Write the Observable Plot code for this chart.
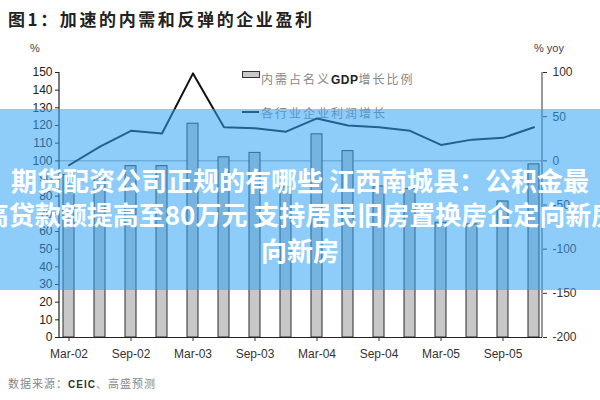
<!DOCTYPE html>
<html>
<head>
<meta charset="utf-8">
<script src="https://cdn.jsdelivr.net/npm/d3@7"></script>
<script src="https://cdn.jsdelivr.net/npm/@observablehq/plot@0.6"></script>
<style>
  body { margin: 0; background: #fff; }
  #wrap { position: relative; width: 600px; height: 400px; overflow: hidden; font-family: "Liberation Sans", Arial, sans-serif; }
  #chart { position: absolute; left: 0; top: 0; }
  .abs { position: absolute; white-space: nowrap; }
  #title { left: 8px; top: 6px; font: bold 17px "Noto Sans CJK SC", sans-serif; letter-spacing: 2.6px; color: #222; }
  #unitL { left: 30px; top: 42px; font-size: 11px; color: #444; }
  #unitR { left: 534px; top: 42px; font-size: 11px; color: #444; }
  .leg { font: 12px "Noto Sans CJK SC", sans-serif; color: #888; letter-spacing: 2px; }
  .leg b { color: #222; font-family: "Liberation Sans", Arial, sans-serif; letter-spacing: 0.5px; }
  #source { left: 8px; top: 375px; font: 11px "Noto Sans CJK SC", sans-serif; color: #888; letter-spacing: 1px; }
  #source b { color: #333; font-family: "Liberation Sans", Arial, sans-serif; font-size: 10px; }
  #banner { left: 0; top: 109px; width: 600px; height: 181px; background: rgba(50, 162, 246, 0.55); }
  .row { left: 300px; transform: translateX(-50%); font: bold 26px "Noto Sans CJK SC", sans-serif; color: #fff; line-height: 30px; }
</style>
</head>
<body>
<div id="wrap">
  <div id="chart"></div>
  <div id="title" class="abs">图1：加速的内需和反弹的企业盈利</div>
  <div id="unitL" class="abs">%</div>
  <div id="unitR" class="abs">% yoy</div>
  <div id="legend"></div>
  <div id="source" class="abs">数据来源：<b>CEIC</b>、高盛预测</div>
  <div id="banner" class="abs"></div>
  <div class="abs row" style="top:165px">期货配资公司正规的有哪些 江西南城县：公积金最</div>
  <div class="abs row" style="top:199px">高贷款额提高至80万元 支持居民旧房置换房企定向新房</div>
  <div class="abs row" style="top:235px">向新房</div>
</div>
<script>
// ---- data ----
const quarters = ["Mar-02","Jun-02","Sep-02","Dec-02","Mar-03","Jun-03","Sep-03","Dec-03",
                  "Mar-04","Jun-04","Sep-04","Dec-04","Mar-05","Jun-05","Sep-05","Dec-05"];
// 内需占名义GDP增长比例 (%), left axis
const demandShare = [92, 90, 97, 97, 121, 102, 104.5, 85, 115, 105.5, 85.5, 84, 65, 64, 77, 98];
// 各行业企业利润增长 (% yoy), right axis
const profitGrowth = [-5, 16, 34, 31, 99, 38, 37, 33, 48, 40, 38, 34, 18, 24, 26, 38];
const xTickLabels = ["Mar-02","Sep-02","Mar-03","Sep-03","Mar-04","Sep-04","Mar-05","Sep-05"];
const leftTicks = [0,10,20,30,40,50,60,70,80,90,100,110,120,130,140,150];
const rightTicks = [-200,-150,-100,-50,0,50,100];
const legendLabels = ["内需占名义", "GDP", "增长比例", "各行业企业利润增长"];

// right axis (-200..100) mapped onto left axis (0..150)
const toLeft = r => 100 + r / 2;
const toRight = l => (l - 100) * 2;

const bars = quarters.map((q, i) => ({q, v: demandShare[i]}));
const line = quarters.map((q, i) => ({q, v: toLeft(profitGrowth[i])}));

const axisLines = (index, {y}, values, dims) => {
  const g = d3.create("svg:g");
  g.append("line").attr("x1", dims.marginLeft).attr("x2", dims.marginLeft)
    .attr("y1", y(150)).attr("y2", y(0)).attr("stroke", "#222").attr("stroke-width", 1.2);
  g.append("line").attr("x1", dims.width - dims.marginRight).attr("x2", dims.width - dims.marginRight)
    .attr("y1", y(150)).attr("y2", y(0)).attr("stroke", "#555").attr("stroke-width", 1.2);
  return g.node();
};

const plot = Plot.plot({
  width: 600,
  height: 400,
  marginLeft: 59,
  marginRight: 58,
  marginTop: 72,
  marginBottom: 63,
  style: {fontFamily: "'Liberation Sans', Arial, sans-serif", fontSize: "12px", background: "transparent"},
  x: {type: "band", domain: quarters, paddingInner: 0.65, paddingOuter: 0},
  y: {domain: [0, 150]},
  marks: [
    Plot.ruleY([100], {stroke: "#9a9a9a", strokeWidth: 1}),
    Plot.barY(bars, {x: "q", y: "v", fill: "#c8c8c8", stroke: "#2a2a2a", strokeWidth: 1}),
    Plot.lineY(line, {x: "q", y: "v", stroke: "#111", strokeWidth: 2}),
    Plot.ruleY([0], {stroke: "#222", strokeWidth: 1.2}),
    axisLines,
    Plot.axisY({anchor: "left", ticks: leftTicks, tickSize: 4, tickPadding: 3, color: "#222", label: null}),
    Plot.axisY({anchor: "right", ticks: rightTicks.map(toLeft), tickFormat: toRight, tickSize: 4, tickPadding: 6, color: "#333", label: null}),
    Plot.axisX({ticks: xTickLabels, tickSize: 4, tickPadding: 8, color: "#333", label: null})
  ]
});
document.getElementById("chart").appendChild(plot);

// legend (HTML)
const leg = document.getElementById("legend");
leg.innerHTML = `
  <div class="abs" style="left:242px;top:71px;width:16px;height:5px;background:#c8c8c8;border:1px solid #333"></div>
  <div class="abs leg" style="left:261px;top:70px">${legendLabels[0]}<b>${legendLabels[1]}</b>${legendLabels[2]}</div>
  <div class="abs" style="left:242px;top:111px;width:17px;height:2px;background:#111"></div>
  <div class="abs leg" style="left:261px;top:104px">${legendLabels[3]}</div>`;
</script>
</body>
</html>
